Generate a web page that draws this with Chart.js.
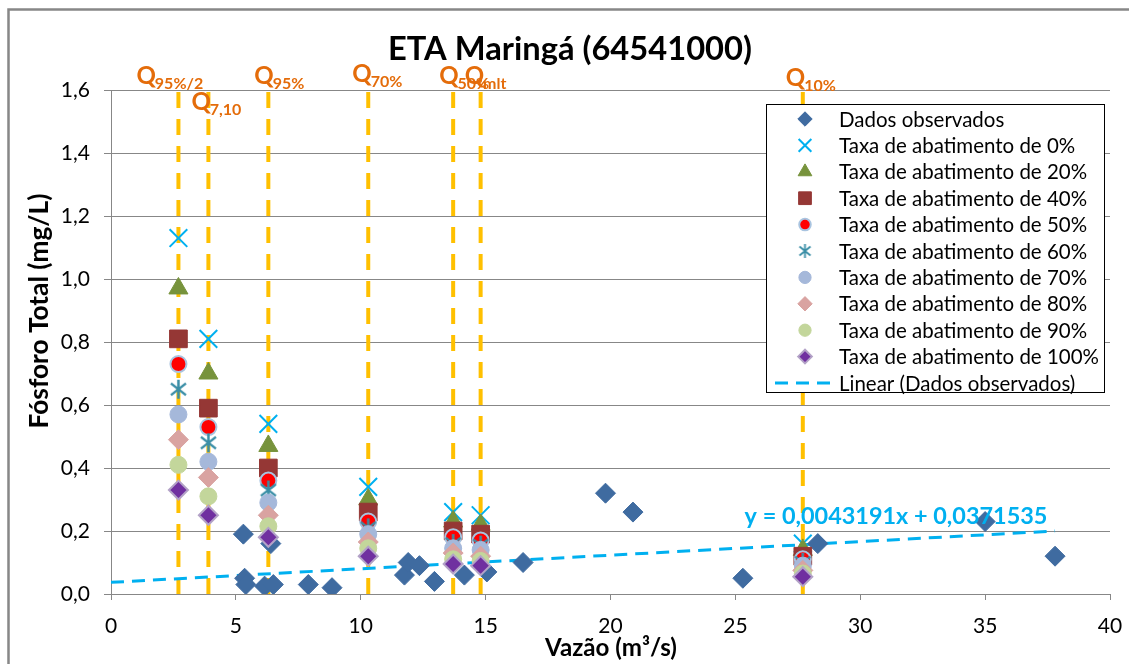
<!DOCTYPE html>
<html>
<head>
<meta charset="utf-8">
<title>ETA Maringá (64541000)</title>
<script src="https://cdn.jsdelivr.net/npm/chart.js"></script>
<style>
  body { margin: 0; background: #fff; overflow: hidden; }
  canvas { display: block; }
</style>
</head>
<body>
<canvas id="chart" width="1129" height="664"></canvas>
<script>
// observed samples (vazão m3/s, fósforo mg/L)
const obsX = [5.3, 5.35, 5.4, 6.15, 6.4, 6.5, 7.9, 8.85, 11.75, 11.9, 12.35, 12.95, 14.15, 15.05, 16.5, 19.8, 20.9, 25.3, 28.3, 35.0, 37.8];
const obsY = [0.19, 0.05, 0.03, 0.025, 0.16, 0.03, 0.03, 0.02, 0.06, 0.10, 0.09, 0.04, 0.06, 0.07, 0.10, 0.32, 0.26, 0.05, 0.16, 0.23, 0.12];

// reference flows (Q95%/2, Q7,10, Q95%, Q70%, Q50%, Qmlt, Q10%)
const qX = [2.7, 3.9, 6.3, 10.3, 13.7, 14.8, 27.7];
const qNames = ['95%/2', '7,10', '95%', '70%', '50%', 'mlt', '10%'];

// simulated concentrations per abatement rate, one value per reference flow
const rateNames = ['0%', '20%', '40%', '50%', '60%', '70%', '80%', '90%', '100%'];
const rate0   = [1.13, 0.81, 0.54, 0.34, 0.26, 0.25, 0.16];
const rate20  = [0.97, 0.70, 0.47, 0.30, 0.23, 0.22, 0.14];
const rate40  = [0.81, 0.59, 0.40, 0.26, 0.20, 0.19, 0.12];
const rate50  = [0.73, 0.53, 0.36, 0.23, 0.18, 0.17, 0.11];
const rate60  = [0.65, 0.48, 0.33, 0.21, 0.16, 0.155, 0.10];
const rate70  = [0.57, 0.42, 0.29, 0.19, 0.145, 0.14, 0.09];
const rate80  = [0.49, 0.37, 0.25, 0.165, 0.13, 0.12, 0.075];
const rate90  = [0.41, 0.31, 0.215, 0.145, 0.11, 0.105, 0.065];
const rate100 = [0.33, 0.25, 0.18, 0.12, 0.095, 0.09, 0.055];
const rateValues = [rate0, rate20, rate40, rate50, rate60, rate70, rate80, rate90, rate100];

const trendX = [0, 37.8];
const trendY = [0.037, 0.200];
const trendText = 'y = 0,0043191x + 0,0371535';

const yTicks = [0, 0.2, 0.4, 0.6, 0.8, 1.0, 1.2, 1.4, 1.6];

const FONT = 'Lato';

function asterisk(w, h, lw, color) {
  const c = document.createElement('canvas');
  c.width = w; c.height = h;
  const g = c.getContext('2d');
  g.strokeStyle = color; g.lineWidth = lw;
  g.beginPath();
  g.moveTo(w / 2, 1); g.lineTo(w / 2, h - 1);
  g.moveTo(2, h * 0.22); g.lineTo(w - 2, h * 0.78);
  g.moveTo(2, h * 0.78); g.lineTo(w - 2, h * 0.22);
  g.stroke();
  return c;
}

const obsStyle = { pointStyle: 'rectRot', radius: 10, bg: '#3F6BA0', border: '#3F6BA0', bw: 1 };
const rateStyles = [
  { pointStyle: 'crossRot', radius: 12.5, bg: '#00B0F0', border: '#00B0F0', bw: 2 },
  { pointStyle: 'triangle', radius: 11, bg: '#77933C', border: '#77933C', bw: 1 },
  { pointStyle: 'rect', radius: 12.5, bg: '#953735', border: '#953735', bw: 1 },
  { pointStyle: 'circle', radius: 8, bg: '#FF0000', border: '#A9C4E0', bw: 2 },
  { pointStyle: asterisk(19, 21, 2.5, '#3A8EA6'), legendStyle: asterisk(15, 16, 1.8, '#3A8EA6'), radius: 9, bg: '#3A8EA6', border: '#3A8EA6', bw: 1 },
  { pointStyle: 'circle', radius: 8.5, bg: '#A5B8DA', border: '#A5B8DA', bw: 1 },
  { pointStyle: 'rectRot', radius: 10, bg: '#D9A3A1', border: '#D9A3A1', bw: 1 },
  { pointStyle: 'circle', radius: 8.5, bg: '#C3D69B', border: '#C3D69B', bw: 1 },
  { pointStyle: 'rectRot', radius: 9.5, bg: '#7030A0', border: '#B3A2C7', bw: 2 }
];

function pts(xs, ys) { return xs.map((x, i) => ({ x: x, y: ys[i] })); }

const datasets = [];
qX.forEach((x) => {
  datasets.push({
    label: 'Q', data: [{ x: x, y: 0 }, { x: x, y: 1.6 }], showLine: true,
    borderColor: '#FFC000', borderWidth: 4, borderDash: [16, 11], pointRadius: 0, order: 100
  });
});
datasets.push({
  label: 'Linear (Dados observados)', data: pts(trendX, trendY), showLine: true,
  borderColor: '#00B0F0', borderWidth: 3, borderDash: [13, 8], pointRadius: 0, order: 90
});
datasets.push({
  label: 'Dados observados', data: pts(obsX, obsY), showLine: false,
  pointStyle: obsStyle.pointStyle, pointRadius: obsStyle.radius,
  backgroundColor: obsStyle.bg, borderColor: obsStyle.border, borderWidth: obsStyle.bw, order: 50
});
rateValues.forEach((vals, i) => {
  const s = rateStyles[i];
  datasets.push({
    label: 'Taxa de abatimento de ' + rateNames[i], data: pts(qX, vals), showLine: false,
    pointStyle: s.pointStyle, pointRadius: s.radius,
    backgroundColor: s.bg, borderColor: s.border, borderWidth: s.bw, order: 10 - i
  });
});

function fitFont(ctx, text, weight, width) {
  ctx.font = weight + ' 100px ' + FONT;
  const w = ctx.measureText(text).width;
  return weight + ' ' + (100 * width / w).toFixed(2) + 'px ' + FONT;
}

function marker(ctx, s, x, y, scale) {
  ctx.save();
  ctx.fillStyle = s.bg;
  ctx.strokeStyle = s.border;
  ctx.lineWidth = s.bw;
  const st = s.legendStyle || s.pointStyle;
  if (Chart.helpers && Chart.helpers.drawPoint) {
    Chart.helpers.drawPoint(ctx, { pointStyle: st, radius: s.radius * scale, rotation: 0, borderWidth: s.bw }, x, y);
  } else {
    ctx.beginPath(); ctx.arc(x, y, s.radius * scale, 0, Math.PI * 2); ctx.fill();
  }
  ctx.restore();
}

// label placement for the Q markers (offset from line, baseline)
const qLabelPos = [[-42, 84], [-17, 110], [-14, 84], [-16, 82], [-14, 84], [-16, 84], [-17, 86]];

const decor = {
  id: 'decor',
  afterDraw(chart) {
    const ctx = chart.ctx;
    const xs = chart.scales.x;
    ctx.save();
    // outer frame
    ctx.strokeStyle = '#878787';
    ctx.lineWidth = 2.5;
    ctx.beginPath();
    ctx.moveTo(8.5, 670); ctx.lineTo(8.5, 9.5); ctx.lineTo(1135, 9.5);
    ctx.stroke();

    // title
    ctx.fillStyle = '#000';
    ctx.textAlign = 'center';
    ctx.textBaseline = 'middle';
    ctx.font = fitFont(ctx, 'ETA Maringá (64541000)', 'bold', 364);
    ctx.fillText('ETA Maringá (64541000)', 570, 49);

    // axis titles
    ctx.font = fitFont(ctx, 'Vazão (m³/s)', 'bold', 132);
    ctx.fillText('Vazão (m³/s)', 611, 648);
    ctx.save();
    ctx.translate(40, 311);
    ctx.rotate(-Math.PI / 2);
    ctx.font = fitFont(ctx, 'Fósforo Total (mg/L)', 'bold', 235);
    ctx.fillText('Fósforo Total (mg/L)', 0, 0);
    ctx.restore();

    // Q labels
    ctx.textAlign = 'left';
    ctx.textBaseline = 'alphabetic';
    ctx.fillStyle = '#E46C0A';
    qX.forEach((x, i) => {
      const px = xs.getPixelForValue(x) + qLabelPos[i][0];
      const by = qLabelPos[i][1];
      ctx.font = 'bold 24px ' + FONT;
      ctx.fillText('Q', px, by);
      const qw = ctx.measureText('Q').width;
      ctx.font = 'bold 16px ' + FONT;
      ctx.fillText(qNames[i], px + qw - 1, by + 5);
    });

    // trend equation
    ctx.fillStyle = '#00B0F0';
    ctx.textAlign = 'center';
    ctx.textBaseline = 'middle';
    ctx.font = fitFont(ctx, trendText, 'bold', 303);
    ctx.fillText(trendText, 896, 516);

    // legend
    ctx.fillStyle = '#fff';
    ctx.fillRect(766.5, 104.5, 338, 288);
    ctx.strokeStyle = '#000';
    ctx.lineWidth = 1;
    ctx.strokeRect(766.5, 104.5, 338, 288);
    const legendFont = fitFont(ctx, 'Taxa de abatimento de 100%', 'normal', 260);
    const rows = [{ label: 'Dados observados', s: obsStyle }];
    rateNames.forEach((n, i) => rows.push({ label: 'Taxa de abatimento de ' + n, s: rateStyles[i] }));
    rows.push({ label: 'Linear (Dados observados)', line: true });
    rows.forEach((r, i) => {
      const y = 119 + i * 26.4;
      if (r.line) {
        ctx.save();
        ctx.strokeStyle = '#00B0F0';
        ctx.lineWidth = 3;
        ctx.setLineDash([13, 8]);
        ctx.beginPath(); ctx.moveTo(775, y); ctx.lineTo(833, y); ctx.stroke();
        ctx.restore();
      } else {
        marker(ctx, r.s, 805, y, 0.72);
      }
      ctx.fillStyle = '#000';
      ctx.textAlign = 'left';
      ctx.textBaseline = 'middle';
      ctx.font = legendFont;
      ctx.fillText(r.label, 839, y + 1);
    });
    ctx.restore();
  }
};

new Chart(document.getElementById('chart'), {
  type: 'scatter',
  data: { datasets: datasets },
  options: {
    responsive: false,
    animation: false,
    layout: { padding: { top: 90, right: 19, left: 0, bottom: 0 } },
    plugins: { legend: { display: false }, tooltip: { enabled: false }, title: { display: false } },
    scales: {
      x: {
        type: 'linear', min: 0, max: 40,
        afterFit(s) { s.height = 70; s.paddingLeft = 0; s.paddingRight = 0; },
        ticks: { stepSize: 5, color: '#000', font: { family: FONT, size: 21 }, padding: 14, maxRotation: 0 },
        grid: { drawOnChartArea: false, drawTicks: true, tickLength: 6, color: '#878787' },
        border: { color: '#878787', width: 1 }
      },
      y: {
        type: 'linear', min: 0, max: 1.6,
        afterFit(s) { s.width = 111; s.paddingTop = 0; s.paddingBottom = 0; },
        afterBuildTicks(s) { s.ticks = yTicks.map(v => ({ value: v })); },
        ticks: {
          color: '#000', font: { family: FONT, size: 21 }, padding: 14,
          callback: v => v.toFixed(1).replace('.', ',')
        },
        grid: { color: '#878787', tickLength: 7 },
        border: { color: '#878787', width: 1 }
      }
    }
  },
  plugins: [decor]
});
</script>
</body>
</html>
